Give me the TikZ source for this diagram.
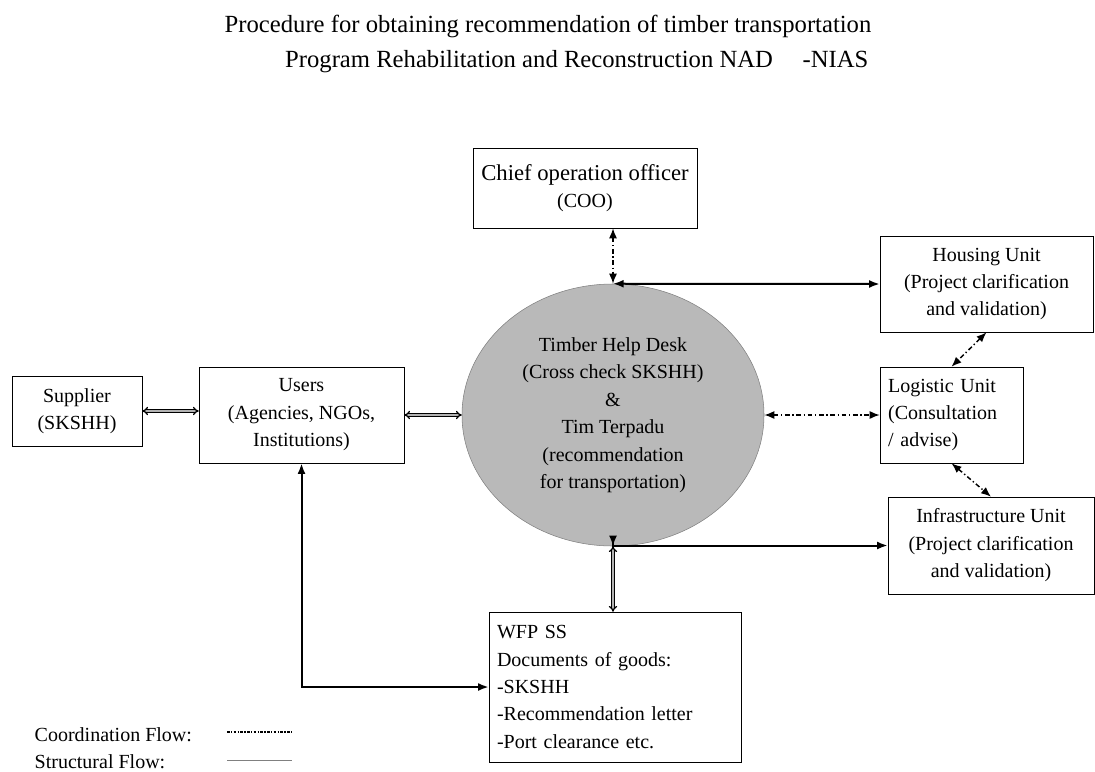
\documentclass[tikz,border=0pt]{standalone}
\usepackage{fontspec}
\setmainfont{Liberation Serif}
\usetikzlibrary{shapes.geometric,arrows.meta}

\begin{document}
\begin{tikzpicture}[x=0.75pt,y=-0.75pt,
  box/.style={draw, rectangle, inner sep=0pt, align=center, font=\fontsize{15}{20.6}\selectfont},
  coordflow/.style={line width=1.1pt, dash pattern=on 3.5pt off 2pt on 1pt off 2pt, {Latex[length=7.5pt,width=6pt]}-{Latex[length=7.5pt,width=6pt]}},
  structflow/.style={line width=1.5pt, {Latex[length=8pt,width=6pt]}-{Latex[length=8pt,width=6pt]}},
  dblflow/.style={double=gray!60, double distance=1pt, line width=1pt, {Implies}-{Implies}}]
\useasboundingbox (0,0) rectangle (1095,771);

% title
\node[font=\fontsize{18.5}{27}\selectfont] (title) at (548,26) {Procedure for obtaining recommendation of timber transportation};
\node[font=\fontsize{18.5}{27}\selectfont, anchor=east] (subtitle) at (873,62) {Program Rehabilitation and Reconstruction NAD\hspace{1.2em}-NIAS};

% boxes
\node[box, minimum width=168pt, minimum height=60pt] (coo) at (585,188) {{\fontsize{17}{22}\selectfont Chief operation officer}\\(COO)};
\node[box, minimum width=159.75pt, minimum height=72pt] (housing) at (986.5,284) {Housing Unit\\(Project clarification\\and validation)};
\node[box, minimum width=107.25pt, minimum height=72pt, align=left, text width=95pt] (logistic) at (951.5,415) {Logistic Unit\\(Consultation\\/ advise)};
\node[box, minimum width=154.5pt, minimum height=72.75pt] (infra) at (991,545.5) {Infrastructure Unit\\(Project clarification\\and validation)};
\node[box, minimum width=97.5pt, minimum height=52.5pt] (supplier) at (77,411) {Supplier\\(SKSHH)};
\node[box, minimum width=153.75pt, minimum height=72pt] (users) at (301.5,415) {Users\\(Agencies, NGOs,\\Institutions)};
\node[box, minimum width=189pt, minimum height=112.5pt, align=left, text width=177pt] (wfp) at (615,687) {WFP SS\\Documents of goods:\\-SKSHH\\-Recommendation letter\\-Port clearance etc.};

% help desk
\node[draw=gray, fill=gray!55, ellipse, inner sep=0pt, minimum width=226.5pt, minimum height=196.5pt, align=center, font=\fontsize{15}{20.6}\selectfont] (desk) at (613,415) {Timber Help Desk\\(Cross check SKSHH)\\\&\\Tim Terpadu\\(recommendation\\for transportation)};

% flows
\path[draw,coordflow] (coo.south -| desk.north) -- (desk.north);
\path[draw,structflow] (desk.north) -- (housing.west);
\path[draw,coordflow] (housing.south) -- (logistic.north);
\path[draw,coordflow] (desk.east) -- (logistic.west);
\path[draw,coordflow] (logistic.south) -- (infra.north);
\path[draw,structflow] (desk.south) -- (infra.west -| desk.south) -- (infra.west);
\path[draw,dblflow] (desk.south) -- (desk.south |- wfp.north);
\path[draw,dblflow] (supplier.east) -- (supplier.east -| users.west);
\path[draw,dblflow] (users.east) -- (users.east -| desk.west);
\path[draw,structflow] (users.south) |- (wfp.west);

% legend
\node[anchor=west, font=\fontsize{15}{20.6}\selectfont] (coordlabel) at (30,735) {Coordination Flow:};
\node[anchor=west, font=\fontsize{15}{20.6}\selectfont] (structlabel) at (30,762) {Structural Flow:};
\coordinate (c1) at (227,732);
\coordinate (c2) at (292,732);
\coordinate (s1) at (227,760);
\coordinate (s2) at (292,760);
\path[draw,line width=1pt,dash pattern=on 2pt off 1pt on 1pt off 1pt] (c1) -- (c2);
\path[draw,gray] (s1) -- (s2);
\end{tikzpicture}
\end{document}
